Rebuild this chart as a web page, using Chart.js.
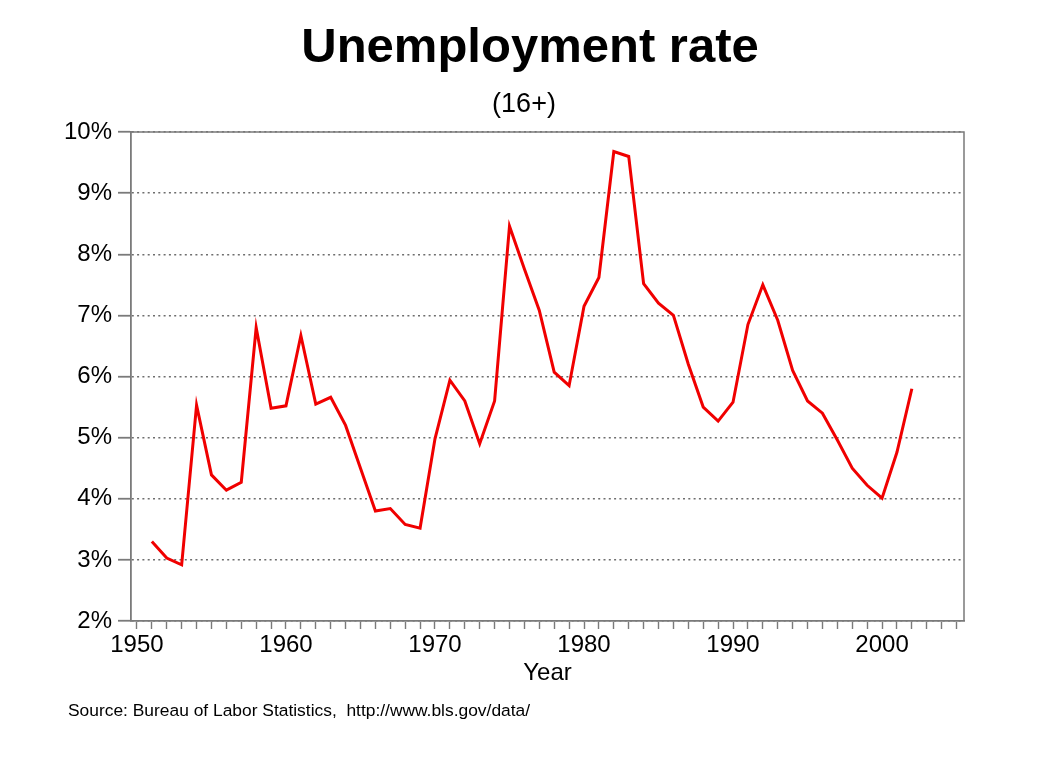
<!DOCTYPE html>
<html>
<head>
<meta charset="utf-8">
<title>Unemployment rate</title>
<script src="https://cdn.jsdelivr.net/npm/chart.js@4.4.1/dist/chart.umd.min.js"></script>
<style>
    html, body { margin: 0; padding: 0; background: #fff; }
    canvas { display: block; }
</style>
</head>
<body>
<canvas id="rateChart" width="1038" height="779"></canvas>
<script>
// Annual unemployment rate, 16 years and over
const years = [1951, 1952, 1953, 1954, 1955, 1956, 1957, 1958, 1959, 1960,
    1961, 1962, 1963, 1964, 1965, 1966, 1967, 1968, 1969, 1970,
    1971, 1972, 1973, 1974, 1975, 1976, 1977, 1978, 1979, 1980,
    1981, 1982, 1983, 1984, 1985, 1986, 1987, 1988, 1989, 1990,
    1991, 1992, 1993, 1994, 1995, 1996, 1997, 1998, 1999, 2000,
    2001, 2002];
const rates = [3.3, 3.03, 2.92, 5.53, 4.39, 4.14, 4.27, 6.8, 5.48, 5.52,
    6.67, 5.55, 5.66, 5.2, 4.5, 3.8, 3.84, 3.58, 3.52, 4.98,
    5.94, 5.6, 4.9, 5.6, 8.46, 7.76, 7.08, 6.07, 5.85, 7.15,
    7.62, 9.68, 9.6, 7.52, 7.2, 7.0, 6.2, 5.5, 5.27, 5.58,
    6.85, 7.5, 6.92, 6.1, 5.6, 5.4, 4.96, 4.5, 4.22, 4.01,
    4.76, 5.8];

// axis ticks
const yearTicks = [];
for (let y = 1950; y <= 2005; y++) yearTicks.push(y);
const yearLabels = [1950, 1960, 1970, 1980, 1990, 2000];
const rateTicks = [2, 3, 4, 5, 6, 7, 8, 9, 10];

const titleText = "Unemployment rate";
const subtitleText = "(16+)";
const sourceText = "Source: Bureau of Labor Statistics,  http://www.bls.gov/data/";

const FONT = "'Liberation Sans', Arial, Helvetica, sans-serif";
const AXIS_GREY = "#7a7a7a";

// Draws the titles, source note and the box round the plot
const decorations = {
    id: "decorations",
    afterDraw(chart) {
        let ctx = chart.ctx;
        let area = chart.chartArea;

        ctx.save();
        ctx.strokeStyle = AXIS_GREY;
        ctx.lineWidth = 1.5;
        ctx.beginPath();
        ctx.moveTo(area.left, area.top);
        ctx.lineTo(area.right, area.top);
        ctx.lineTo(area.right, area.bottom);
        ctx.stroke();

        ctx.fillStyle = "#000";
        ctx.textAlign = "center";
        ctx.textBaseline = "alphabetic";
        ctx.font = "bold 49px " + FONT;
        ctx.fillText(titleText, 530, 62);
        ctx.font = "27px " + FONT;
        ctx.fillText(subtitleText, 524, 112);

        ctx.textAlign = "left";
        ctx.font = "17.4px " + FONT;
        ctx.fillText(sourceText, 68, 716);
        ctx.restore();
    }
};

let ctx = document.getElementById("rateChart").getContext("2d");

new Chart(ctx, {
    type: "line",
    data: {
        datasets: [{
            label: "Unemployment rate",
            data: years.map((y, i) => ({ x: y, y: rates[i] })),
            borderColor: "#f00000",
            borderWidth: 3,
            pointRadius: 0,
            tension: 0,
            fill: false
        }]
    },
    options: {
        responsive: false,
        animation: false,
        devicePixelRatio: 1,
        layout: {
            padding: { left: 0, right: 74, top: 132, bottom: 91 }
        },
        plugins: {
            legend: { display: false },
            tooltip: { enabled: false }
        },
        scales: {
            x: {
                type: "linear",
                min: 1949.6,
                max: 2005.5,
                afterBuildTicks: (scale) => {
                    scale.ticks = yearTicks.map(v => ({ value: v }));
                },
                afterFit: (scale) => { scale.height = 67; },
                ticks: {
                    autoSkip: false,
                    maxRotation: 0,
                    padding: 2,
                    color: "#000",
                    font: { family: FONT, size: 24 },
                    callback: (v) => yearLabels.includes(v) ? String(v) : ""
                },
                grid: {
                    drawOnChartArea: false,
                    drawTicks: true,
                    tickLength: 8,
                    tickColor: AXIS_GREY,
                    tickWidth: 1.4
                },
                border: { display: true, color: AXIS_GREY, width: 1.8 },
                title: {
                    display: true,
                    text: "Year",
                    color: "#000",
                    padding: 0,
                    font: { family: FONT, size: 24 }
                }
            },
            y: {
                min: 2,
                max: 10,
                afterBuildTicks: (scale) => {
                    scale.ticks = rateTicks.map(v => ({ value: v }));
                },
                afterFit: (scale) => { scale.width = 131; },
                ticks: {
                    padding: 6,
                    color: "#000",
                    font: { family: FONT, size: 24 },
                    callback: (v) => v + "%"
                },
                grid: {
                    color: "#6e6e6e",
                    lineWidth: 1.5,
                    tickLength: 13,
                    tickColor: AXIS_GREY,
                    tickWidth: 1.8,
                    tickBorderDash: []
                },
                border: { display: true, color: AXIS_GREY, width: 1.8, dash: [2, 3.3] }
            }
        }
    },
    plugins: [decorations]
});
</script>
</body>
</html>
